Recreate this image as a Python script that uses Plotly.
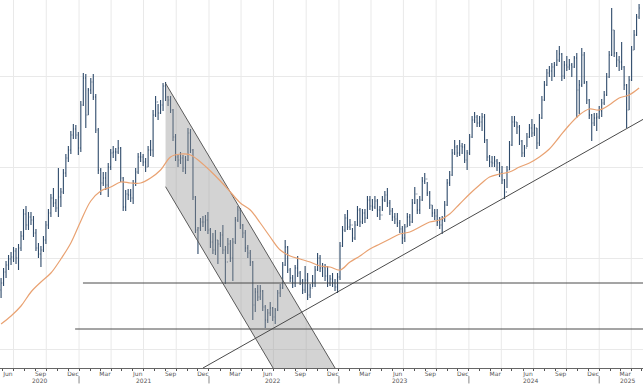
import plotly.graph_objects as go
import pandas as pd

# Weekly bars (price units)
high = [90,100,107,113,116,121,120,124,137,159,162,156,156,152,139,125,122,132,147,159,
        174,180,169,200,180,199,214,222,237,244,243,236,267,295,294,280,290,294,274,240,
        200,196,196,205,219,222,220,228,221,191,178,179,179,188,200,215,216,214,210,222,
        228,258,272,264,268,285,286,272,272,259,234,213,216,213,212,240,239,219,172,141,
        150,152,153,156,140,135,138,128,136,143,122,130,128,130,151,162,160,144,138,123,
        118,107,80,83,83,78,63,59,66,61,60,78,84,106,128,122,100,93,103,112,
        97,89,102,95,84,93,102,115,113,105,104,102,93,95,89,95,126,142,154,158,
        149,140,147,162,160,159,159,172,172,169,172,169,162,172,177,180,168,160,155,155,
        148,142,144,155,154,169,181,169,172,191,195,186,177,163,159,159,151,152,167,189,
        197,219,228,223,228,225,224,218,234,252,256,253,252,255,254,229,213,212,212,209,
        206,202,189,202,227,252,252,246,243,228,223,235,244,249,244,240,254,272,287,299,
        302,305,306,318,322,315,307,312,309,305,312,315,288,320,316,287,269,254,255,255,
        262,269,277,295,317,360,338,316,312,326,302,284,292,322,338,354,364]
low = [70,82,90,98,103,106,104,98,117,128,138,138,143,131,117,110,101,116,124,139,
       151,161,156,151,161,174,191,206,214,229,229,213,216,262,240,253,274,268,235,194,
       173,182,178,171,198,210,207,214,186,157,157,168,166,164,182,194,206,202,196,201,
       212,211,251,248,254,257,267,262,255,227,207,201,204,196,194,207,215,168,135,114,
       137,141,137,134,120,114,113,104,121,114,84,114,106,87,124,146,139,130,116,110,
       102,48,56,67,68,57,40,45,52,47,44,57,71,79,102,95,86,80,81,91,
       83,74,75,68,70,81,81,97,96,91,87,81,82,81,77,75,88,121,136,138,
       138,126,128,142,141,144,145,149,158,157,159,151,148,157,166,161,153,147,144,141,
       135,124,126,141,142,145,164,154,154,167,184,172,159,151,148,142,139,134,146,162,
       182,192,213,211,212,214,205,198,213,230,245,241,241,237,225,207,201,201,201,197,
       191,184,169,180,198,222,241,234,223,211,211,221,230,231,232,219,222,249,267,282,
       291,287,291,302,306,287,289,297,298,291,300,250,254,281,284,264,249,227,242,237,
       249,251,263,272,290,312,311,301,297,298,278,240,258,287,318,332,349]
close = [85,96,103,109,111,117,110,120,132,154,143,151,148,135,120,114,118,128,143,155,
         170,165,160,171,176,195,210,218,233,239,233,220,263,290,253,278,286,271,238,198,
         185,190,183,201,215,216,216,220,190,161,174,173,170,185,196,211,211,206,201,218,
         218,253,266,255,263,282,271,268,258,231,211,208,210,200,208,235,218,171,138,140,
         146,146,148,138,126,118,128,124,133,118,106,124,110,126,148,158,143,135,120,115,
         106,63,76,71,77,61,48,55,60,51,58,75,80,103,121,98,90,85,100,95,
         87,78,88,73,80,85,98,110,100,101,92,85,89,85,81,91,122,138,150,141,
         143,130,143,158,146,155,150,168,162,161,167,158,153,168,173,165,157,151,149,145,
         139,130,141,151,146,165,174,158,168,187,189,175,163,155,152,146,143,148,163,185,
         193,215,221,215,222,221,208,215,231,248,251,245,246,251,228,211,206,205,207,205,
         195,188,176,198,223,246,246,241,227,215,220,231,240,235,240,225,250,268,283,295,
         297,301,303,308,314,292,303,301,303,301,310,278,283,313,286,268,253,245,250,251,
         257,265,273,291,313,338,315,308,306,301,283,258,288,318,333,351,360]
first_open = 78

# 200-day moving average, sampled every four weeks
ma200 = [44,52,62,76,86,95,109,125,147,167,177,181,186,185,185,190,198,211,214,213,
         206,197,187,176,165,158,145,131,118,112,109,106,102,101,98,106,112,119,124,129,
         134,136,141,146,148,154,164,174,183,191,194,196,201,205,211,219,231,243,253,259,
         258,263,270,273,280]

# Drawn studies (anchor dates / price levels)
channel_dates = ["2021-09-01", "2022-12-21", "2022-06-30", "2021-09-01"]
channel_prices = [284.7, 0, 0, 181.3]
trend_dates = ["2021-12-15", "2025-05-04"]
trend_prices = [0, 248.6]
hlines = [(85, "2021-01-12"), (39, "2020-12-21")]

month_ticks = list(pd.date_range("2020-06-01", "2025-03-01", freq="3MS"))
month_tickvals = [d + pd.Timedelta(days=14) for d in month_ticks]
month_ticktext = [d.strftime("%b") for d in month_ticks]
year_labels = [("2020", "2020-09-12"), ("2021", "2021-06-30"), ("2022", "2022-06-28"),
               ("2023", "2023-06-21"), ("2024", "2024-06-21"), ("2025", "2025-03-22")]

x_start, x_end = "2020-05-24", "2025-05-04"

week_dates = pd.date_range("2020-05-27", periods=len(close), freq="7D")
opens = [first_open] + close[:-1]
ma_dates = week_dates[::4][:len(ma200)]

fig = go.Figure()

# channel shading
fig.add_trace(go.Scatter(x=channel_dates, y=channel_prices, fill="toself",
                         fillcolor="rgba(150,150,150,0.42)", line=dict(width=0),
                         mode="lines", hoverinfo="skip"))
fig.add_trace(go.Scatter(x=[channel_dates[0], channel_dates[1]], y=[channel_prices[0], channel_prices[1]],
                         mode="lines", line=dict(color="#5a5a5a", width=1), hoverinfo="skip"))
fig.add_trace(go.Scatter(x=[channel_dates[3], channel_dates[2]], y=[channel_prices[3], channel_prices[2]],
                         mode="lines", line=dict(color="#5a5a5a", width=1), hoverinfo="skip"))

fig.add_trace(go.Scatter(x=ma_dates, y=ma200, mode="lines",
                         line=dict(color="#e9a272", width=1.2, shape="spline"),
                         hoverinfo="skip"))

fig.add_trace(go.Ohlc(x=week_dates, open=opens, high=high, low=low, close=close,
                      increasing=dict(line=dict(color="#2f4b6b", width=1.1)),
                      decreasing=dict(line=dict(color="#2f4b6b", width=1.1)),
                      tickwidth=0.3, hoverinfo="skip"))

shapes = []
for q in pd.date_range("2020-07-01", "2025-04-01", freq="QS"):
    shapes.append(dict(type="line", xref="x", yref="paper", x0=q, x1=q, y0=0, y1=1,
                       line=dict(color="#e9e9e9", width=1), layer="below"))
for lvl, d0 in hlines:
    shapes.append(dict(type="line", xref="x", yref="y", x0=d0, x1=x_end, y0=lvl, y1=lvl,
                       line=dict(color="#4a4a4a", width=1)))
shapes.append(dict(type="line", xref="x", yref="y", x0=trend_dates[0], x1=trend_dates[1],
                   y0=trend_prices[0], y1=trend_prices[1], line=dict(color="#4a4a4a", width=1)))
for yr in range(2021, 2026):
    shapes.append(dict(type="line", xref="x", yref="paper", x0=f"{yr}-01-01", x1=f"{yr}-01-01",
                       y0=-0.022, y1=-0.042, line=dict(color="#888", width=1)))

annotations = [dict(text=t, x=d, xref="x", y=0, yref="paper", yanchor="middle", yshift=-12,
                    showarrow=False, borderpad=0,
                    font=dict(size=6, color="#555", family="DejaVu Sans"))
               for t, d in year_labels]

fig.update_layout(
    width=643, height=384,
    margin=dict(l=0, r=0, t=0, b=16),
    paper_bgcolor="white", plot_bgcolor="white",
    showlegend=False,
    shapes=shapes, annotations=annotations,
    xaxis=dict(type="date", range=[x_start, x_end], rangeslider=dict(visible=False),
               tickmode="array", tickvals=month_tickvals, ticktext=month_ticktext,
               ticks="", ticklen=0, ticklabelstandoff=0, showgrid=False, showline=True,
               linecolor="#666", linewidth=1,
               tickfont=dict(size=6, color="#555", family="DejaVu Sans"),
               minor=dict(ticks="outside", tickmode="linear", tick0="2020-01-01", dtick="M1",
                          ticklen=2, tickcolor="#555", showgrid=False),
               automargin=False, zeroline=False),
    yaxis=dict(range=[0, 368], tickmode="array", tickvals=[19, 110, 201, 292],
               showticklabels=False, showgrid=True, gridcolor="#e9e9e9", zeroline=False,
               showline=False, ticks=""),
)

fig.write_html("out.html", config={"displayModeBar": False},
               post_script="document.body.style.margin='0';")
